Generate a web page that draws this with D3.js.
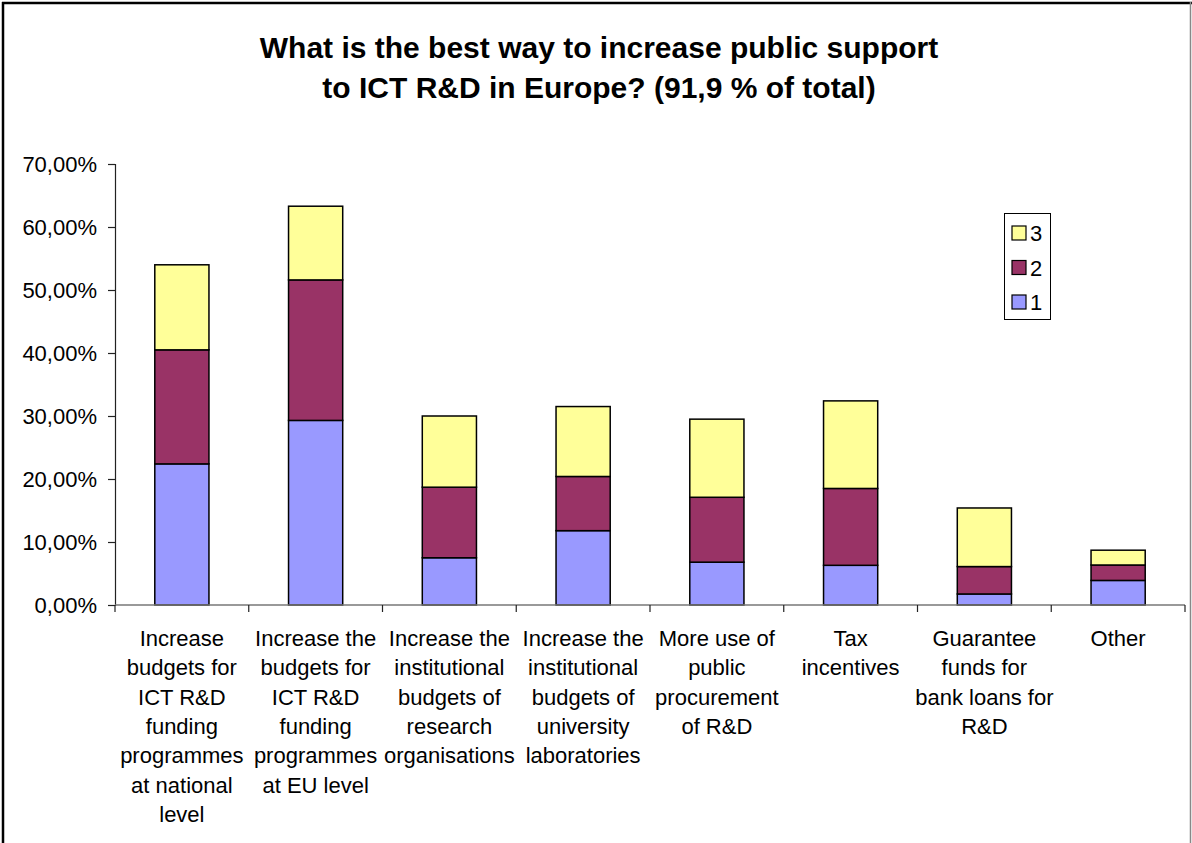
<!DOCTYPE html>
<html>
<head>
<meta charset="utf-8">
<script src="https://cdn.jsdelivr.net/npm/d3@7"></script>
<style>
  html, body { margin: 0; padding: 0; background: #fff; }
  svg { display: block; font-family: "Liberation Sans", Arial, sans-serif; }
</style>
</head>
<body>
<svg id="chart" width="1192" height="843"></svg>
<script>
// Answer categories (each entry is split into the lines shown under the axis)
const categories = [
  ["Increase", "budgets for", "ICT R&D", "funding", "programmes", "at national", "level"],
  ["Increase the", "budgets for", "ICT R&D", "funding", "programmes", "at EU level"],
  ["Increase the", "institutional", "budgets of", "research", "organisations"],
  ["Increase the", "institutional", "budgets of", "university", "laboratories"],
  ["More use of", "public", "procurement", "of R&D"],
  ["Tax", "incentives"],
  ["Guarantee", "funds for", "bank loans for", "R&D"],
  ["Other"]
];

// Share of respondents (%) by priority rank
const rank1 = [22.4, 29.3, 7.5, 11.8, 6.8, 6.3, 1.75, 3.9];
const rank2 = [18.1, 22.3, 11.2, 8.6, 10.3, 12.2, 4.35, 2.45];
const rank3 = [13.5, 11.7, 11.3, 11.1, 12.4, 13.9, 9.3, 2.35];

const seriesNames = ["1", "2", "3"];
const seriesColors = ["#9999FF", "#993366", "#FFFF99"];
const yTicks = [0, 10, 20, 30, 40, 50, 60, 70];

const titleLines = [
  "What is the best way to increase public support",
  "to ICT R&D in Europe? (91,9 % of total)"
];

const svg = d3.select("#chart");
const W = 1192, H = 843;
const plot = { left: 115, right: 1185, top: 164, bottom: 605 };

// Outer chart frame (left/top dark, right thin gray)
svg.append("line").attr("x1", 3).attr("y1", 2).attr("x2", 3).attr("y2", H)
  .attr("stroke", "#000").attr("stroke-width", 2.5);
svg.append("line").attr("x1", 2).attr("y1", 3).attr("x2", W).attr("y2", 3)
  .attr("stroke", "#000").attr("stroke-width", 2.5);
svg.append("line").attr("x1", 1190.5).attr("y1", 2).attr("x2", 1190.5).attr("y2", H)
  .attr("stroke", "#888").attr("stroke-width", 1.5);

// Title
svg.append("g").selectAll("text").data(titleLines).join("text")
  .attr("x", 599).attr("y", (d, i) => 58 + i * 40)
  .attr("text-anchor", "middle")
  .attr("font-size", 30).attr("font-weight", "bold").attr("fill", "#000")
  .text(d => d);

// Scales
const idx = d3.range(categories.length);
const x = d3.scaleBand().domain(idx).range([plot.left, plot.right]).padding(0);
const y = d3.scaleLinear().domain([0, 70]).range([plot.bottom, plot.top]);

// Stack the three ranks
const rows = idx.map(i => ({ i, "1": rank1[i], "2": rank2[i], "3": rank3[i] }));
const stacked = d3.stack().keys(seriesNames)(rows);

const barW = x.bandwidth() * 0.405;
const barG = svg.append("g");
stacked.forEach((layer, s) => {
  barG.append("g").selectAll("rect").data(layer).join("rect")
    .attr("x", d => x(d.data.i) + (x.bandwidth() - barW) / 2)
    .attr("y", d => y(d[1]))
    .attr("width", barW)
    .attr("height", d => y(d[0]) - y(d[1]))
    .attr("fill", seriesColors[s])
    .attr("stroke", "#000").attr("stroke-width", 1.5);
});

// Y axis
const yAxis = d3.axisLeft(y).tickValues(yTicks).tickSize(7).tickPadding(11)
  .tickFormat(d => d3.format(".2f")(d).replace(".", ",") + "%");
const gy = svg.append("g").attr("transform", `translate(${plot.left},0)`).call(yAxis);
gy.select(".domain").attr("stroke", "#222").attr("stroke-width", 1.2);
gy.selectAll(".tick line").attr("stroke", "#222").attr("stroke-width", 1.2);
gy.selectAll(".tick text").attr("font-size", 22).attr("fill", "#000")
  .attr("font-family", "Liberation Sans, Arial, sans-serif");

// X axis line and tick marks at category boundaries
const gx = svg.append("g");
gx.append("line").attr("x1", plot.left).attr("x2", plot.right)
  .attr("y1", plot.bottom).attr("y2", plot.bottom)
  .attr("stroke", "#777").attr("stroke-width", 1.5);
const bounds = idx.map(i => x(i)).concat([x(idx.length - 1) + x.bandwidth()]);
gx.selectAll("line.tk").data(bounds).join("line").attr("class", "tk")
  .attr("x1", d => d).attr("x2", d => d)
  .attr("y1", plot.bottom).attr("y2", plot.bottom + 7)
  .attr("stroke", "#222").attr("stroke-width", 1.2);

// Category labels
const lab = svg.append("g");
categories.forEach((lines, i) => {
  const t = lab.append("text")
    .attr("x", x(i) + x.bandwidth() / 2)
    .attr("y", 646)
    .attr("text-anchor", "middle")
    .attr("font-size", 22).attr("fill", "#000");
  lines.forEach((ln, k) => {
    t.append("tspan").attr("x", x(i) + x.bandwidth() / 2)
      .attr("y", 646 + k * 29.3).text(ln);
  });
});

// Legend
const leg = svg.append("g");
leg.append("rect").attr("x", 1004.5).attr("y", 213.5).attr("width", 46).attr("height", 106)
  .attr("fill", "#fff").attr("stroke", "#000").attr("stroke-width", 1);
const legItems = [2, 1, 0];
legItems.forEach((s, k) => {
  const cy = 233 + k * 34.5;
  leg.append("rect").attr("x", 1012).attr("y", cy - 7).attr("width", 14).attr("height", 14)
    .attr("fill", seriesColors[s]).attr("stroke", "#000").attr("stroke-width", 1.2);
  leg.append("text").attr("x", 1030).attr("y", cy + 8)
    .attr("font-size", 22).attr("fill", "#000").text(seriesNames[s]);
});
</script>
</body>
</html>
